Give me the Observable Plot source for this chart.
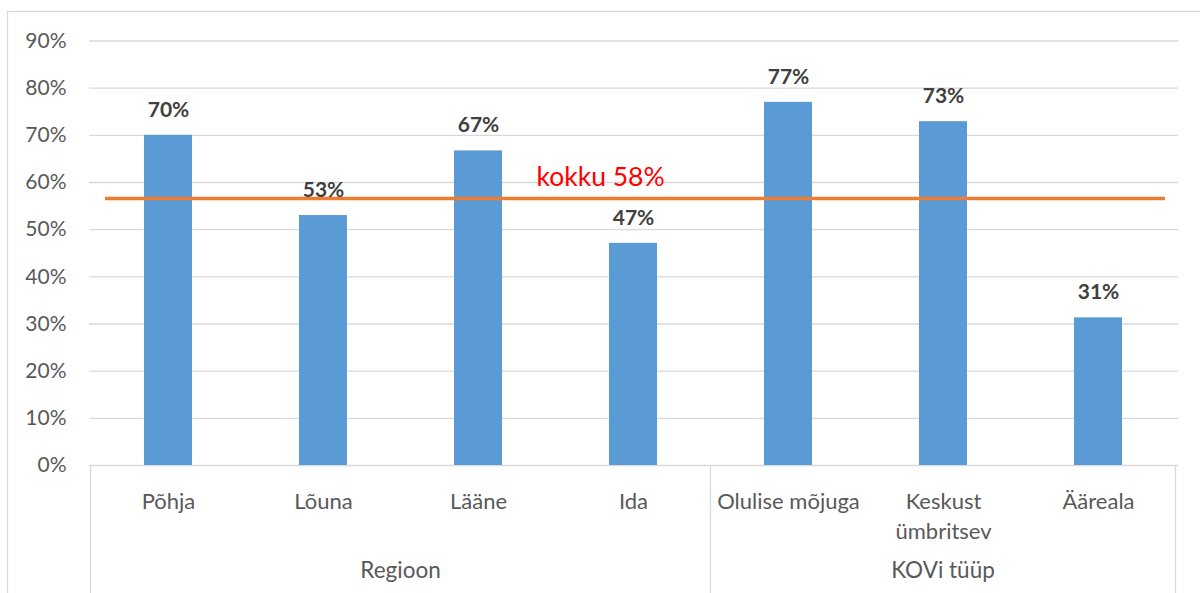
<!DOCTYPE html>
<html>
<head>
<meta charset="utf-8">
<script src="https://cdn.jsdelivr.net/npm/d3@7"></script>
<script src="https://cdn.jsdelivr.net/npm/@observablehq/plot@0.6"></script>
<style>
  body { margin: 0; background: #fff; }
  #chart { position: relative; width: 1200px; height: 593px; overflow: hidden; }
  #chart svg { display: block; }
</style>
</head>
<body>
<div id="chart"></div>
<script>
// ---- data ----
const categories = ["Põhja", "Lõuna", "Lääne", "Ida", "Olulise mõjuga", "Keskust ümbritsev", "Ääreala"];
const categoryLabels = ["Põhja", "Lõuna", "Lääne", "Ida", "Olulise mõjuga", "Keskust\nümbritsev", "Ääreala"];
const values = [70.0, 53.0, 66.7, 47.1, 77.0, 72.9, 31.3];
const groupNames = ["Regioon", "KOVi tüüp"];
const groupSizes = [4, 3];
const yTicks = [0, 10, 20, 30, 40, 50, 60, 70, 80, 90];
const kokkuLabel = "kokku 58%";
const kokkuLevel = 56.6;
const kokkuAnchorCategory = "Ida";

const FONT = "Lato, 'Open Sans', sans-serif";
const data = categories.map((c, i) => ({ category: c, value: values[i] }));
const labelOf = new Map(categories.map((c, i) => [c, categoryLabels[i]]));

const plot = Plot.plot({
  width: 1200,
  height: 593,
  marginLeft: 89,
  marginRight: 22,
  marginTop: 40.5,
  marginBottom: 128,
  style: { fontFamily: FONT, background: "transparent", overflow: "visible" },
  x: { domain: categories, paddingInner: 0.69, paddingOuter: 0.345, axis: null },
  y: { domain: [0, 90], axis: null },
  marks: [
    Plot.gridY(yTicks, { stroke: "#D9D9D9", strokeOpacity: 1, strokeWidth: 1.3 }),
    Plot.axisY(yTicks, {
      tickSize: 0, tickPadding: 23, tickFormat: d => d + "%",
      fontSize: 21, fill: "#595959", label: null
    }),
    Plot.axisX({
      tickSize: 0, tickPadding: 22, tickFormat: d => labelOf.get(d),
      fontSize: 22, fill: "#595959", label: null, lineHeight: 1.36
    }),
    Plot.barY(data, { x: "category", y: "value", fill: "#5B9BD5" }),
    Plot.ruleY([kokkuLevel], { stroke: "#ED7D31", strokeWidth: 3.6, insetLeft: 16, insetRight: 13 }),
    Plot.text(data, {
      x: "category", y: "value", text: d => Math.round(d.value) + "%",
      dy: -25.5, fontSize: 21, fontWeight: "bold", fill: "#404040"
    }),
    Plot.text([{ category: kokkuAnchorCategory, level: kokkuLevel, label: kokkuLabel }], {
      x: "category", y: "level", text: "label", textAnchor: "start",
      dx: -97, dy: -21, fontSize: 26.5, fill: "#FF0000"
    })
  ]
});

document.getElementById("chart").appendChild(plot);

// ---- multi-level category axis, drawn from Plot's own scales ----
const svg = d3.select(plot);
const xs = plot.scale("x");
const ys = plot.scale("y");
const step = xs.step, bw = xs.bandwidth;
const gap = (step - bw) / 2;
const y0 = ys.apply(0);
const H = 593;

const axisG = svg.append("g").attr("font-family", FONT);
let idx = 0;
const edges = [];
groupSizes.forEach((n, g) => {
  const left = xs.apply(categories[idx]) - gap;
  const right = xs.apply(categories[idx + n - 1]) + bw + gap;
  if (g === 0) edges.push(left);
  edges.push(right);
  axisG.append("text")
    .attr("x", (left + right) / 2)
    .attr("y", 578)
    .attr("text-anchor", "middle")
    .attr("font-size", 22.5)
    .attr("fill", "#595959")
    .text(groupNames[g]);
  idx += n;
});
edges.forEach(e => {
  axisG.append("line")
    .attr("x1", e).attr("x2", e)
    .attr("y1", y0).attr("y2", H)
    .attr("stroke", "#D9D9D9").attr("stroke-width", 1.3);
});

// ---- white text box behind the "kokku" label ----
svg.selectAll("text").filter(function () { return this.textContent === kokkuLabel; })
  .each(function () {
    const bb = this.getBBox();
    const parent = this.parentNode;
    d3.select(parent).insert("rect", ":first-child")
      .attr("x", bb.x - 20).attr("y", bb.y + 2)
      .attr("width", bb.width + 115).attr("height", bb.height - 4)
      .attr("fill", "#fff");
  });

// ---- chart-area border ----
svg.append("rect")
  .attr("x", 7.5).attr("y", 11.5)
  .attr("width", 1220).attr("height", 620)
  .attr("fill", "none").attr("stroke", "#D9D9D9").attr("stroke-width", 1.3);
</script>
</body>
</html>
